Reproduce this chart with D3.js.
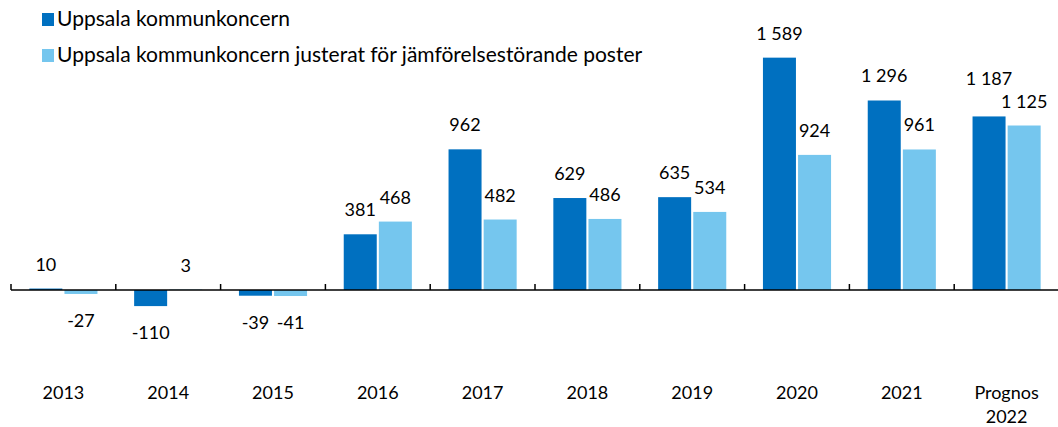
<!DOCTYPE html>
<html>
<head>
<meta charset="utf-8">
<script src="https://cdn.jsdelivr.net/npm/d3@7"></script>
<style>
  body { margin: 0; background: #fff; }
  svg text { font-family: Lato, "Noto Sans", sans-serif; fill: #000; }
</style>
</head>
<body>
<div id="chart"></div>
<script>
// Chart data
const categories = ['2013', '2014', '2015', '2016', '2017', '2018', '2019', '2020', '2021', 'Prognos 2022'];
const tickLabels = [['2013'], ['2014'], ['2015'], ['2016'], ['2017'], ['2018'], ['2019'], ['2020'], ['2021'], ['Prognos', '2022']];
const seriesNames = ['Uppsala kommunkoncern', 'Uppsala kommunkoncern justerat för jämförelsestörande poster'];
const koncern = [10, -110, -39, 381, 962, 629, 635, 1589, 1296, 1187];
const justerat = [-27, 3, -41, 468, 482, 486, 534, 924, 961, 1125];
const colors = ['#0070C0', '#75C6EE'];

const width = 1058;
const height = 427;

const svg = d3.select('#chart')
    .append('svg')
    .attr('width', width)
    .attr('height', height);

// Scales
const x0 = d3.scaleBand()
    .domain(categories)
    .range([11, 1059])
    .paddingInner(0.35)
    .paddingOuter(0.175);

const x1 = d3.scaleBand()
    .domain([0, 1])
    .range([0, x0.bandwidth()])
    .paddingInner(0.06);

const y = d3.scaleLinear()
    .domain([-400, 1800])
    .range([348.5, 26.8]);

// Swedish style numbers: space as thousands separator
const sv = d3.formatLocale({ decimal: ',', thousands: '\u00a0', grouping: [3], currency: ['', ' kr'], minus: '-' });
const fmt = sv.format(',d');

const rows = categories.map((c, i) => ({ cat: c, values: [koncern[i], justerat[i]] }));

const groups = svg.append('g')
    .selectAll('g')
    .data(rows)
    .enter()
    .append('g')
    .attr('transform', d => `translate(${x0(d.cat)},0)`);

groups.selectAll('rect')
    .data(d => d.values.map((v, s) => ({ v, s })))
    .enter()
    .append('rect')
    .attr('x', d => x1(d.s))
    .attr('width', x1.bandwidth())
    .attr('y', d => y(Math.max(0, d.v)))
    .attr('height', d => Math.abs(y(d.v) - y(0)))
    .attr('fill', d => colors[d.s]);

// Value labels
groups.selectAll('text')
    .data(d => d.values.map((v, s) => ({ v, s })))
    .enter()
    .append('text')
    .attr('x', d => x1(d.s) + x1.bandwidth() / 2)
    .attr('y', d => d.v >= 0 ? y(d.v) - 18 : y(d.v) + 33)
    .attr('text-anchor', 'middle')
    .attr('font-size', '18px')
    .text(d => fmt(d.v));

// Lift the first label when it collides with its neighbour
groups.each(function () {
    const labels = d3.select(this).selectAll('text').nodes();
    const a = labels[0].getBBox();
    const b = labels[1].getBBox();
    const overlap = a.x + a.width > b.x && a.y + a.height > b.y && b.y + b.height > a.y;
    if (overlap) {
        d3.select(labels[0]).attr('y', +d3.select(labels[1]).attr('y') - 23);
    }
});

// Axis at zero
const axisY = y(0);
svg.append('line')
    .attr('x1', 11)
    .attr('x2', width)
    .attr('y1', axisY)
    .attr('y2', axisY)
    .attr('stroke', '#000')
    .attr('stroke-width', 1.5);

svg.append('g')
    .selectAll('line')
    .data(categories)
    .enter()
    .append('line')
    .attr('x1', d => x0(d) - x0.step() * 0.175)
    .attr('x2', d => x0(d) - x0.step() * 0.175)
    .attr('y1', axisY)
    .attr('y2', axisY - 6)
    .attr('stroke', '#000')
    .attr('stroke-width', 1.5);

// Category labels
const catLabels = svg.append('g')
    .selectAll('text')
    .data(categories)
    .enter()
    .append('text')
    .attr('x', d => x0(d) + x0.bandwidth() / 2)
    .attr('y', 399)
    .attr('text-anchor', 'middle')
    .attr('font-size', '18px');

catLabels.selectAll('tspan')
    .data((d, i) => tickLabels[i])
    .enter()
    .append('tspan')
    .attr('x', function () { return d3.select(this.parentNode).attr('x'); })
    .attr('dy', (d, i) => i === 0 ? 0 : 24)
    .text(d => d);

// Legend
const legend = svg.append('g')
    .attr('transform', 'translate(42, 13)');

legend.selectAll('rect')
    .data(seriesNames)
    .enter()
    .append('rect')
    .attr('x', 0)
    .attr('y', (d, i) => i * 36)
    .attr('width', 12)
    .attr('height', 13)
    .attr('fill', (d, i) => colors[i]);

legend.selectAll('text')
    .data(seriesNames)
    .enter()
    .append('text')
    .attr('x', 15)
    .attr('y', (d, i) => i * 36 + 13)
    .attr('font-size', '21px')
    .text(d => d);
</script>
</body>
</html>
